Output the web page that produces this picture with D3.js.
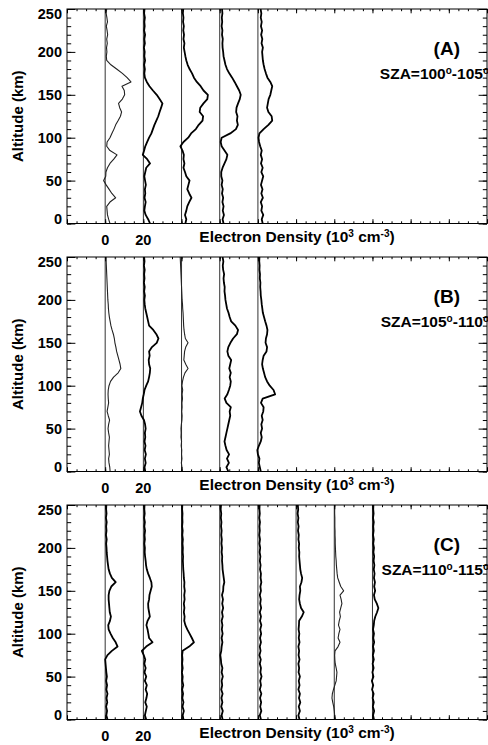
<!DOCTYPE html>
<html>
<head>
<meta charset="utf-8">
<script src="https://cdn.jsdelivr.net/npm/d3@7/dist/d3.min.js"></script>
<style>
  html, body { margin: 0; padding: 0; background: #fff; }
  svg { display: block; }
  text { font-family: "Liberation Sans", Arial, Helvetica, sans-serif; font-weight: bold; fill: #000; }
</style>
</head>
<body>
<svg id="chart" width="488" height="745"></svg>
<script>
// Altitude grid (km) shared by every profile
const altitudes = [0,5,10,15,20,25,30,35,40,45,50,55,60,65,70,75,80,85,90,95,100,
  105,110,115,120,125,130,135,140,145,150,155,160,165,170,175,180,185,190,195,200,
  205,210,215,220,225,230,235,240,245,250];

// Electron density profiles (10^3 cm^-3), bottom to top, one per occultation
// Panel A, SZA 100-105
const profA1 = [2.5,1.8,1.2,1.0,0.8,2.5,5.5,3.5,2.0,0.5,-0.8,0.3,0.4,1.2,2.5,4.5,6.2,2.5,0.8,1.0,2.5,
  3.5,4.6,5.5,6.8,8.0,8.6,7.6,7.0,9.0,10.2,10.0,8.8,13.5,11.5,9.0,6.0,3.0,0.8,0.6,0.9,
  0.7,1.1,0.8,1.3,1.0,0.6,1.2,0.9,0.5,0.8];
const profA2 = [3.5,2.5,1.2,0.5,0.8,1.2,0.6,1.0,0.8,1.3,0.9,0.5,1.0,1.5,3.5,2.0,-0.3,0.4,1.0,2.0,3.0,
  4.2,5.0,5.8,6.8,7.8,8.5,9.3,10.0,8.5,7.0,5.0,3.2,1.8,0.8,0.5,0.8,0.4,0.9,0.5,0.7,
  0.3,0.8,0.5,0.9,0.4,0.7,0.5,0.8,0.4,0.6];
const profA3 = [2.0,2.5,1.8,2.5,3.0,4.0,5.2,4.0,3.0,3.6,4.2,2.5,1.8,1.0,1.5,1.0,1.2,0.5,-0.6,1.0,3.5,
  5.0,7.5,9.0,11.0,11.3,9.5,9.8,11.5,13.5,13.8,11.5,10.0,8.0,6.5,5.5,4.2,3.2,2.5,2.0,1.6,
  1.2,1.5,1.0,1.3,0.9,1.2,0.8,1.0,0.7,0.9];
const profA4 = [2.0,1.5,2.2,1.6,2.0,1.4,1.8,1.2,1.6,1.0,1.4,0.8,0.8,1.5,2.5,3.5,4.0,2.5,1.0,0.5,1.0,
  5.5,8.5,9.5,9.0,9.3,8.6,8.8,9.6,10.5,11.0,10.2,9.0,7.8,6.5,5.0,3.8,3.0,2.5,2.0,1.8,
  1.5,1.4,1.6,1.2,1.4,1.0,1.3,1.1,1.4,1.2];
const profA5 = [2.5,2.0,2.8,1.8,2.2,1.5,2.6,1.8,2.4,1.6,2.2,2.8,1.8,2.5,1.6,2.2,1.5,2.0,1.2,0.6,0.3,
  0.8,3.0,5.5,7.5,7.2,5.5,4.8,5.2,5.6,6.5,7.0,7.5,6.5,5.0,4.2,3.5,3.0,2.6,2.4,2.2,
  2.6,1.9,2.3,1.7,2.2,1.6,2.0,1.5,1.8,1.4];

// Panel B, SZA 105-110
const profB1 = [2.6,2.4,2.0,1.8,2.2,2.0,1.8,2.0,2.2,1.8,1.5,1.8,2.3,1.6,1.0,1.4,1.8,1.6,1.5,1.6,2.0,
  2.8,4.4,6.8,8.2,7.8,7.2,6.6,6.0,5.6,5.1,4.8,4.3,3.6,3.0,2.6,2.2,1.9,1.7,1.6,1.4,
  1.3,1.2,1.1,1.0,0.9,0.8,0.7,0.6,0.5,0.4];
const profB2 = [1.0,0.6,1.2,0.8,1.3,0.7,1.1,0.6,1.0,0.8,1.2,0.9,0.3,-1.0,-1.8,-1.2,-0.6,-0.3,0.2,0.6,1.5,
  2.5,3.0,3.4,3.6,3.0,2.8,3.3,3.0,4.5,7.0,7.9,6.8,5.2,3.0,2.5,2.0,1.5,1.0,0.7,0.5,
  0.8,0.4,0.7,0.3,0.6,0.4,0.7,0.3,0.6,0.4];
const profB3 = [0.1,0.2,-0.1,0.2,0.0,0.1,-0.2,0.0,-0.3,-0.2,-0.3,-0.1,0.2,0.3,0.1,0.3,0.2,0.5,0.3,0.6,0.2,
  0.5,1.0,1.8,3.4,2.2,1.2,1.4,1.6,2.2,3.4,2.0,1.6,1.3,1.1,1.0,0.9,0.8,0.6,0.5,0.3,
  0.2,0.1,0.0,-0.1,-0.2,-0.3,-0.4,-0.5,-0.6,-0.7];
const profB4 = [4.5,3.5,4.8,3.8,4.9,3.6,3.0,2.5,3.0,3.5,4.0,4.5,5.0,5.5,5.2,5.8,3.5,2.6,4.0,4.8,5.5,
  5.8,5.2,5.8,5.0,5.5,6.0,4.5,4.0,4.5,5.6,7.0,9.0,9.6,8.2,6.0,5.2,4.6,3.8,3.4,3.0,
  2.8,2.5,2.6,2.2,2.0,2.3,1.8,1.6,1.9,1.5];
const profB5 = [1.5,1.0,0.5,0.8,0.0,-0.3,0.5,1.5,2.0,1.5,2.2,1.8,2.5,2.0,2.8,3.0,1.6,2.5,9.0,8.2,6.2,
  4.8,3.8,3.2,2.6,2.2,2.5,3.0,4.5,4.8,4.0,4.2,4.8,5.0,4.5,3.8,3.2,2.6,2.3,2.0,1.8,
  1.5,1.4,1.2,1.3,1.0,1.1,0.8,0.9,0.7,0.8];

// Panel C, SZA 110-115
const profC1 = [1.2,0.6,1.0,0.5,1.1,0.7,1.2,0.6,1.0,0.5,0.9,0.6,0.4,0.2,0.0,1.2,3.5,6.5,5.5,4.0,2.8,
  1.8,1.6,2.5,3.0,2.4,2.2,2.0,1.8,1.8,2.2,3.2,5.5,3.5,2.5,1.8,1.5,1.2,1.0,0.8,0.7,
  0.5,0.8,0.4,0.7,0.5,0.8,0.4,0.7,0.5,0.6];
const profC2 = [1.5,0.8,1.3,1.8,1.0,1.6,2.0,1.2,1.8,0.8,1.5,0.6,1.2,0.5,1.0,0.2,-0.8,1.5,4.8,3.0,2.6,
  2.2,1.6,2.2,3.4,3.0,2.6,2.5,3.0,3.2,3.8,4.4,4.2,3.4,2.5,1.8,1.4,1.2,0.9,0.7,0.8,
  0.5,0.8,0.6,0.9,0.5,0.8,0.4,0.7,0.5,0.6];
const profC3 = [1.0,0.6,1.2,0.5,1.0,0.4,0.8,0.3,0.9,0.4,0.6,0.2,0.6,0.3,0.5,0.3,0.6,4.0,6.5,5.4,4.2,
  3.0,2.0,1.4,1.6,1.2,1.5,1.2,1.6,1.4,1.7,1.4,1.5,1.2,1.1,0.9,0.8,0.7,0.8,0.6,0.7,
  0.5,0.7,0.4,0.6,0.3,0.5,0.4,0.5,0.3,0.4];
const profC4 = [1.5,1.0,1.6,0.8,1.4,0.9,1.5,0.8,1.3,1.0,1.6,1.0,1.4,0.8,0.6,0.3,0.8,1.0,1.4,1.0,1.5,
  1.1,1.4,1.0,1.6,1.2,1.8,1.3,1.7,1.2,1.8,1.9,2.4,2.1,1.8,1.5,1.4,1.2,1.3,1.0,1.2,
  0.9,1.1,0.8,1.0,0.7,0.9,0.6,0.8,0.5,0.7];
const profC5 = [1.6,1.0,1.8,1.2,1.7,1.1,1.8,1.0,1.6,1.2,1.9,1.3,1.6,1.0,1.5,0.8,1.4,1.0,1.6,1.1,1.7,
  1.2,1.8,1.1,1.6,1.0,1.7,1.2,1.5,1.0,1.6,1.3,1.8,1.4,1.6,1.1,1.4,1.0,1.3,0.9,1.2,
  0.8,1.1,0.7,1.0,0.8,1.1,0.7,1.0,0.8,0.9];
const profC6 = [1.8,1.2,2.0,1.4,2.2,1.5,2.0,1.2,1.8,1.4,2.0,1.3,1.6,1.2,1.8,1.3,1.6,1.2,1.8,1.4,1.7,
  1.3,1.5,1.6,3.0,4.0,2.6,2.0,1.6,1.8,2.2,2.0,2.8,3.2,2.6,2.2,2.0,1.8,1.6,1.7,1.4,
  1.6,1.2,1.4,1.0,1.3,0.9,1.2,0.8,1.1,0.9];
const profC7 = [0.6,0.2,0.0,-0.3,-0.8,-1.2,-1.0,-0.4,0.3,1.0,1.2,1.4,1.0,0.5,0.3,0.2,0.4,2.0,3.0,2.0,2.4,
  3.0,2.2,2.6,3.2,2.8,3.4,4.0,3.6,3.0,4.9,3.4,2.6,1.8,1.5,1.3,1.1,1.0,0.8,0.7,0.6,
  0.5,0.5,0.4,0.4,0.3,0.3,0.3,0.2,0.2,0.2];
const profC8 = [0.8,0.3,0.9,0.2,0.7,0.1,0.6,-0.2,0.4,-0.3,0.5,0.0,0.6,0.1,0.7,0.2,0.8,0.3,0.9,0.4,0.8,
  0.3,0.7,0.9,1.5,2.4,3.1,2.3,1.2,0.8,1.4,0.9,1.3,0.8,1.1,0.7,1.0,0.6,0.9,0.5,0.8,
  0.4,0.7,0.3,0.6,0.4,0.7,0.3,0.6,0.4,0.5];

// Each successive profile is shifted right by this many units
const profileStep = 20;
const panelNames = ["(A)", "(B)", "(C)"];
const szaLow = ["100", "105", "110"];
const szaHigh = ["105", "110", "115"];
const panelProfiles = [
  [profA1, profA2, profA3, profA4, profA5],
  [profB1, profB2, profB3, profB4, profB5],
  [profC1, profC2, profC3, profC4, profC5, profC6, profC7, profC8]
];
// Smooth (thin-line) profiles, by panel
const thinProfiles = [[0], [0, 2], [6]];
const altTicks = [0, 50, 100, 150, 200, 250];
const densityTickLabels = [0, 20];

const svg = d3.select("#chart");
const left = 67, right = 487;
const panelTop0 = 9, panelGap = 248, panelH = 214.5;

const x = d3.scaleLinear().domain([-20, 200]).range([left, right]);

panelProfiles.forEach((profiles, p) => {
  const top = panelTop0 + p * panelGap;
  const bottom = top + panelH;
  const y = d3.scaleLinear().domain([0, 250]).range([bottom, top]);
  const g = svg.append("g");

  const clipId = "clip" + p;
  g.append("clipPath").attr("id", clipId)
    .append("rect").attr("x", left).attr("y", top).attr("width", right - left).attr("height", panelH);

  // zero-density reference line for each profile
  profiles.forEach((prof, i) => {
    const off = i * profileStep;
    g.append("line")
      .attr("x1", x(off)).attr("x2", x(off))
      .attr("y1", y(0)).attr("y2", y(250))
      .attr("stroke", "#333").attr("stroke-width", 1);
  });

  // profiles
  profiles.forEach((prof, i) => {
    const off = i * profileStep;
    const line = d3.line()
      .x((v) => x(off + v))
      .y((v, k) => y(altitudes[k]));
    const thin = thinProfiles[p].includes(i);
    g.append("path")
      .attr("clip-path", `url(#${clipId})`)
      .attr("d", line(prof))
      .attr("fill", "none")
      .attr("stroke", thin ? "#222" : "#000")
      .attr("stroke-width", thin ? 1.1 : 1.8)
      .attr("stroke-linejoin", "round");
  });

  // frame
  g.append("rect")
    .attr("x", left).attr("y", top)
    .attr("width", right - left).attr("height", panelH)
    .attr("fill", "none").attr("stroke", "#000").attr("stroke-width", 1);

  // altitude axes, left and mirrored right
  const yMinorTicks = d3.range(0, 251, 10);
  const yAxisL = d3.axisLeft(y).tickValues(altTicks).tickSize(-8.4).tickFormat("");
  const yMinorL = d3.axisLeft(y).tickValues(yMinorTicks).tickSize(-4.2).tickFormat("");
  const yAxisR = d3.axisRight(y).tickValues(altTicks).tickSize(-8.4).tickFormat("");
  const yMinorR = d3.axisRight(y).tickValues(yMinorTicks).tickSize(-4.2).tickFormat("");
  [[yAxisL, left], [yMinorL, left], [yAxisR, right], [yMinorR, right]].forEach(([ax, pos]) => {
    const a = g.append("g").attr("transform", `translate(${pos},0)`).call(ax);
    a.select(".domain").remove();
    a.selectAll("line").attr("stroke", "#000");
  });

  // density axes, bottom and mirrored top
  const xMajor = d3.range(-20, 201, 20);
  const xMinor = d3.range(-20, 201, 5);
  const xb = d3.axisBottom(x).tickValues(xMajor).tickSize(-4.3).tickFormat("");
  const xbm = d3.axisBottom(x).tickValues(xMinor).tickSize(-2.2).tickFormat("");
  const xt = d3.axisTop(x).tickValues(xMajor).tickSize(-4.3).tickFormat("");
  const xtm = d3.axisTop(x).tickValues(xMinor).tickSize(-2.2).tickFormat("");
  [[xb, bottom], [xbm, bottom], [xt, top], [xtm, top]].forEach(([ax, pos]) => {
    const a = g.append("g").attr("transform", `translate(0,${pos})`).call(ax);
    a.select(".domain").remove();
    a.selectAll("line").attr("stroke", "#000");
  });

  // altitude tick labels (end labels kept inside the frame height)
  altTicks.forEach((t) => {
    let cy = y(t);
    cy = Math.max(top + 4.5, Math.min(bottom - 5, cy));
    g.append("text")
      .attr("x", 62).attr("y", cy + 5.2)
      .attr("text-anchor", "end")
      .attr("font-size", 14.5)
      .text(t);
  });

  // density tick labels
  densityTickLabels.forEach((t) => {
    g.append("text")
      .attr("x", x(t)).attr("y", bottom + 21)
      .attr("text-anchor", "middle")
      .attr("font-size", 14.5)
      .text(t);
  });

  // x title
  const xt2 = g.append("text")
    .attr("x", 297).attr("y", bottom + 18.5)
    .attr("text-anchor", "middle")
    .attr("font-size", 15.5);
  xt2.append("tspan").text("Electron Density (10");
  xt2.append("tspan").attr("font-size", 10).attr("dy", -5.5).text("3");
  xt2.append("tspan").attr("dy", 5.5).text(" cm");
  xt2.append("tspan").attr("font-size", 10).attr("dy", -5.5).text("-3");
  xt2.append("tspan").attr("dy", 5.5).text(")");

  // y title
  g.append("text")
    .attr("transform", `translate(23,${(top + bottom) / 2}) rotate(-90)`)
    .attr("text-anchor", "middle")
    .attr("font-size", 15)
    .text("Altitude (km)");

  // panel tag and SZA range
  g.append("text")
    .attr("x", 460).attr("y", top + 46)
    .attr("text-anchor", "end")
    .attr("font-size", 19)
    .text(panelNames[p]);

  const sz = g.append("text")
    .attr("x", 489).attr("y", top + 70)
    .attr("text-anchor", "end")
    .attr("font-size", 15.5);
  sz.append("tspan").text("SZA=" + szaLow[p]);
  sz.append("tspan").attr("font-size", 10).attr("dy", -5.5).text("o");
  sz.append("tspan").attr("dy", 5.5).text("-" + szaHigh[p]);
  sz.append("tspan").attr("font-size", 10).attr("dy", -5.5).text("o");
});
</script>
</body>
</html>
